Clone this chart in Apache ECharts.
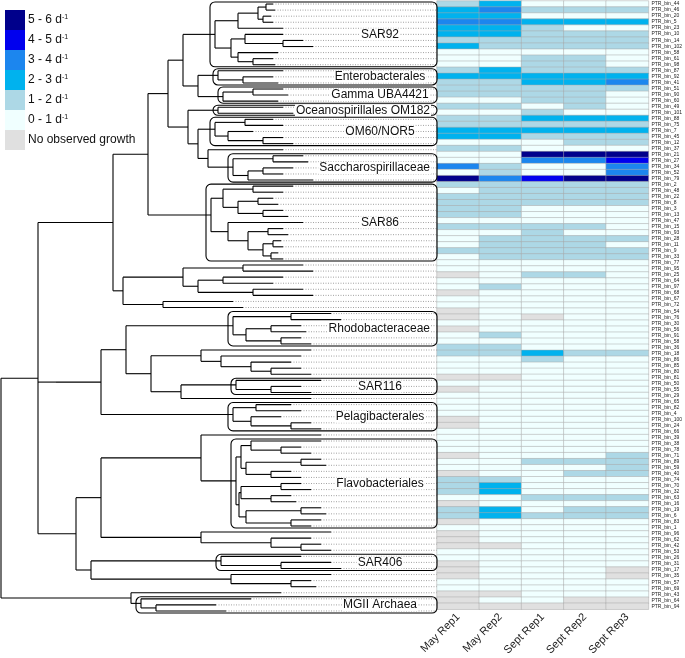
<!DOCTYPE html>
<html><head><meta charset="utf-8">
<script src="https://cdn.jsdelivr.net/npm/echarts@6/dist/echarts.min.js"></script>
<style>html,body{margin:0;padding:0;background:#fff}#c{width:685px;height:658px}</style>
</head><body><div id="c"></div>
<script>
// ---------------- DATA ----------------
const rowLabels = ['PTR_bin_44','PTR_bin_46','PTR_bin_20','PTR_bin_5','PTR_bin_23','PTR_bin_10','PTR_bin_14','PTR_bin_102','PTR_bin_58','PTR_bin_61','PTR_bin_98','PTR_bin_87','PTR_bin_92','PTR_bin_41','PTR_bin_51','PTR_bin_90','PTR_bin_60','PTR_bin_49','PTR_bin_101','PTR_bin_88','PTR_bin_75','PTR_bin_7','PTR_bin_45','PTR_bin_12','PTR_bin_37','PTR_bin_21','PTR_bin_27','PTR_bin_34','PTR_bin_52','PTR_bin_79','PTR_bin_2','PTR_bin_48','PTR_bin_22','PTR_bin_8','PTR_bin_3','PTR_bin_13','PTR_bin_47','PTR_bin_15','PTR_bin_93','PTR_bin_28','PTR_bin_11','PTR_bin_9','PTR_bin_33','PTR_bin_77','PTR_bin_95','PTR_bin_25','PTR_bin_64','PTR_bin_97','PTR_bin_68','PTR_bin_67','PTR_bin_72','PTR_bin_54','PTR_bin_76','PTR_bin_30','PTR_bin_56','PTR_bin_91','PTR_bin_58','PTR_bin_36','PTR_bin_18','PTR_bin_86','PTR_bin_85','PTR_bin_80','PTR_bin_81','PTR_bin_50','PTR_bin_55','PTR_bin_29','PTR_bin_65','PTR_bin_82','PTR_bin_4','PTR_bin_100','PTR_bin_24','PTR_bin_66','PTR_bin_39','PTR_bin_38','PTR_bin_78','PTR_bin_71','PTR_bin_89','PTR_bin_59','PTR_bin_40','PTR_bin_74','PTR_bin_70','PTR_bin_32','PTR_bin_63','PTR_bin_16','PTR_bin_19','PTR_bin_6','PTR_bin_83','PTR_bin_1','PTR_bin_96','PTR_bin_62','PTR_bin_42','PTR_bin_53','PTR_bin_26','PTR_bin_31','PTR_bin_17','PTR_bin_35','PTR_bin_57','PTR_bin_69','PTR_bin_43','PTR_bin_64','PTR_bin_94'];

const columns = ['May Rep1','May Rep2','Sept Rep1','Sept Rep2','Sept Rep3'];

// growth class per row: -1 = no observed growth, 0 = 0-1, 1 = 1-2, 2 = 2-3, 3 = 3-4, 4 = 4-5, 5 = 5-6 d^-1
const mayRep1  = [1,2,2,3,2,2,1,2,0,0,0,1,2,1,1,1,0,1,0,1,1,2,2,0,1,0,0,3,0,5,1,0,1,1,1,1,0,1,0,0,0,1,0,0,0,-1,0,0,-1,0,0,-1,-1,0,-1,0,0,1,1,0,0,0,-1,0,-1,0,0,0,0,-1,-1,0,0,0,0,-1,0,0,-1,1,1,1,0,-1,1,1,-1,0,-1,-1,-1,0,0,-1,-1,-1,0,0,-1,-1,-1];
const mayRep2  = [2,3,2,3,2,2,1,1,0,0,0,2,2,1,1,1,0,1,0,1,1,2,2,0,1,0,0,1,1,3,1,1,1,1,1,1,0,1,0,1,1,1,1,0,0,0,0,1,0,0,0,0,0,0,0,1,0,1,1,0,0,0,-1,0,0,0,0,0,0,0,0,0,0,0,0,0,0,0,0,1,2,2,0,0,2,2,0,0,0,0,-1,0,0,0,0,0,0,0,-1,0,-1];
const septRep1 = [0,1,0,2,1,1,1,1,0,1,1,1,2,2,1,1,1,0,1,2,1,2,1,0,0,5,3,0,0,4,1,1,1,1,0,0,0,1,1,1,1,1,1,0,0,1,0,0,0,0,0,0,-1,0,0,0,0,0,2,1,0,0,0,0,0,0,0,0,0,0,0,0,0,0,0,0,1,0,0,0,0,0,1,0,0,1,0,0,0,0,0,0,0,0,0,0,0,0,0,0,-1];
const septRep2 = [0,1,0,2,0,1,1,1,0,1,1,1,2,2,1,1,1,1,0,2,1,2,1,1,0,5,3,0,0,5,1,1,1,1,0,0,0,1,0,1,1,1,1,0,0,1,0,0,0,0,0,0,0,0,0,0,0,0,1,0,0,0,0,0,0,0,0,0,0,0,0,0,0,0,0,0,1,0,1,0,0,0,1,0,1,1,0,0,0,0,0,0,0,0,0,0,0,0,0,-1,-1];
const septRep3 = [0,1,0,2,0,1,1,1,0,0,0,1,2,3,1,0,0,0,0,2,1,2,1,1,0,5,4,3,3,5,1,1,1,1,0,0,0,0,0,1,0,1,1,0,0,0,0,0,0,0,0,0,0,0,0,0,0,0,1,0,0,0,0,0,0,0,0,0,0,0,0,0,0,0,0,1,1,1,1,0,0,0,1,0,1,1,0,0,0,0,0,0,0,0,-1,-1,0,0,0,-1,-1];

const growthCodes  = [-1, 0, 1, 2, 3, 4, 5];
const growthLabels = ['No observed growth','0 - 1 d{s|-1}','1 - 2 d{s|-1}','2 - 3 d{s|-1}','3 - 4 d{s|-1}','4 - 5 d{s|-1}','5 - 6 d{s|-1}'];
const growthColors = ['#E0E0E0','#F0FFFF','#ADD8E6','#00B2EE','#1C86EE','#0000EE','#00008B'];

const cladeNames    = ['SAR92','Enterobacterales','Gamma UBA4421','Oceanospirillales OM182','OM60/NOR5','Saccharospirillaceae','SAR86','Rhodobacteraceae','SAR116','Pelagibacterales','Flavobacteriales','SAR406','MGII Archaea'];
const cladeFirstRow = [1,12,15,18,20,26,31,52,63,67,73,92,99];
const cladeLastRow  = [11,14,17,19,24,30,43,57,65,71,87,94,101];

// tree (Newick fragments with branch lengths); leaves in row order
const sar92Tree  = '((((44:7,46:9):8,(20:8,5:10):5):20,23:45):23,((10:38,(14:20,102:30):38):14,(58:40,(61:20,98:22):15):7):16)';
const enteroTree = '(87:65,(92:30,41:35):25)';
const ubaTree    = '((51:30,90:35):30,60:55)';
const om182Tree  = '(49:65,101:75)';
const om60Tree   = '((88:28,75:38):30,(7:25,(45:20,12:30):35):13)';
const sacchTree  = '((21:30,27:35):40,((34:30,52:20):15,79:65):15)';
const sar86Tree  = '(((2:40,48:30):30,((22:15,8:20):20,(3:20,13:25):25):15):12,(47:75,((15:15,93:20):20,((28:8,11:10):10,(9:7,33:12):8):15):20):17)';
const gammaRest  = '(((77:60,95:70):60,((25:60,64:50):25,(97:50,68:60):55):15):60,(67:70,72:80):40)';
const rhodoTree  = '((54:40,76:50):58,((30:30,56:35):25,(91:20,58:30):35):13)';
const alphaMid   = '(36:110,(18:80,(86:40,(85:30,80:40):20):30):20)';
const sar116Tree = '(81:85,(50:30,55:40):35)';
const pelagiTree = '((65:35,82:45):23,(4:30,(100:20,24:30):40):18)';
const flavoTree  = '(((39:70,(38:20,78:30):30):10,((71:20,89:25):55,(59:20,40:30):25):5):5,(((74:20,70:30):40,(32:20,63:25):30):2,((16:20,19:25):55,(6:30,83:20):45):7):3)';
const bactRest   = '(1:130,(96:40,(62:20,42:30):30):70)';
const sar406Tree = '(53:80,(26:50,31:60):60)';
const otherRest  = '(17:100,(35:20,57:25):60)';
const mgiiTree   = '(43:110,(64:60,94:70):15)';

const gammaTree = `((((${sar92Tree}:32,(${enteroTree}:20,${ubaTree}:25):15):15,(${om182Tree}:30,(${om60Tree}:17,(37:75,${sacchTree}:25):10):10):20):20,${sar86Tree}:63):35,${gammaRest}:10)`;
const alphaTree = `(((${rhodoTree}:107,(${alphaMid}:50,(${sar116Tree}:55,29:130):30):25):25,${pelagiTree}:132)`;
const bactTree  = `(((66:120,${flavoTree}:35):100,${bactRest}:100):25,(${sar406Tree}:130,${otherRest}:140):15)`;
const fullTree  = `(((${gammaTree}:75,${alphaTree}:45):18,${bactTree}:38):37,(69:150,${mgiiTree}:10):130);`;

// ---------------- LAYOUT ----------------
function parseNewick(s) {
  s = s.replace(/\s/g, '');
  let i = 0;
  function node() {
    const n = { children: [], name: '', len: 0 };
    if (s[i] === '(') {
      i++;
      n.children.push(node());
      while (s[i] === ',') { i++; n.children.push(node()); }
      i++;
    }
    let name = '';
    while (i < s.length && !',():;'.includes(s[i])) name += s[i++];
    n.name = name;
    if (s[i] === ':') {
      i++; let num = '';
      while (i < s.length && !',();'.includes(s[i])) num += s[i++];
      n.len = parseFloat(num);
    }
    return n;
  }
  return node();
}
const root = parseNewick(fullTree);
let leafCount = 0;
function layout(n, px) {
  n.x = px + n.len;
  if (!n.children.length) { n.y = leafCount++; n.first = n.y; n.last = n.y; }
  else {
    n.children.forEach(c => layout(c, n.x));
    const k = n.children.length;
    n.y = (n.children[0].y + n.children[k - 1].y) / 2;
    n.first = n.children[0].first; n.last = n.children[k - 1].last;
  }
}
root.len = 0; layout(root, 0);

const TREE_MAX = 436;
const branchSegs = [], dotSegs = [], byRange = {};
function walk(n, parent) {
  if (!byRange[n.first + '-' + n.last]) byRange[n.first + '-' + n.last] = n;
  if (parent) branchSegs.push([parent.x, n.y, n.x, n.y]);
  if (n.children.length) {
    branchSegs.push([n.x, n.children[0].y, n.x, n.children[n.children.length - 1].y]);
    n.children.forEach(c => walk(c, n));
  } else if (n.x < TREE_MAX) {
    dotSegs.push([n.x, n.y, TREE_MAX, n.y]);
  }
}
walk(root, null);

const cladeBoxes = cladeNames.map((nm, i) => {
  const a = cladeFirstRow[i] - 1, b = cladeLastRow[i] - 1;
  const node = byRange[a + '-' + b];
  const mx = node ? node.x : 200;
  return [mx - 5, a, b, i];
});

const cells = [];
[mayRep1, mayRep2, septRep1, septRep2, septRep3].forEach((col, ci) =>
  col.forEach((v, ri) => cells.push([ci, ri, v])));

const FONT = '"Liberation Sans", Arial, sans-serif';
const mctx = document.createElement('canvas').getContext('2d');
mctx.font = '12px ' + FONT;

function segRender(stroke, width, dash) {
  return function (params, api) {
    const a = api.coord([api.value(0), api.value(1)]);
    const b = api.coord([api.value(2), api.value(3)]);
    return { type: 'line', shape: { x1: a[0], y1: a[1], x2: b[0], y2: b[1] },
      style: { stroke: stroke, lineWidth: width, lineDash: dash || null } };
  };
}

const chart = echarts.init(document.getElementById('c'));
chart.setOption({
  animation: false,
  textStyle: { fontFamily: FONT },
  grid: [
    { left: 0, top: 1, width: 437, bottom: 44 },
    { left: 437, top: 1, width: 215, bottom: 44 }
  ],
  xAxis: [
    { gridIndex: 0, type: 'value', min: -1, max: TREE_MAX, show: false },
    { gridIndex: 1, type: 'category', data: columns, axisLine: { show: false }, axisTick: { show: false },
      splitLine: { show: false },
      axisLabel: { rotate: 45, interval: 0, fontSize: 11, color: '#222', margin: 6 } }
  ],
  yAxis: [
    { gridIndex: 0, type: 'value', min: -0.5, max: 100.5, inverse: true, show: false },
    { gridIndex: 1, type: 'category', data: rowLabels, inverse: true, position: 'right',
      axisLine: { show: false }, axisTick: { show: false },
      axisLabel: { fontSize: 5, interval: 0, margin: 3, color: '#222' } }
  ],
  visualMap: {
    type: 'piecewise', seriesIndex: 3, orient: 'vertical', left: 5, top: 10, padding: 0,
    itemWidth: 20, itemHeight: 20, itemGap: 0, textGap: 3, itemSymbol: 'rect',
    selectedMode: false, hoverLink: false, z: 10,
    textStyle: { fontSize: 12, color: '#111', fontFamily: FONT, backgroundColor: '#fff',
      rich: { s: { fontSize: 7, verticalAlign: 'top', fontFamily: FONT, color: '#111' } } },
    pieces: growthCodes.map((v, i) => ({ value: v, label: growthLabels[i], color: growthColors[i] }))
  },
  series: [
    { type: 'custom', xAxisIndex: 0, yAxisIndex: 0, silent: true, data: dotSegs,
      renderItem: segRender('#8a8a8a', 0.8, [1, 1.5]) },
    { type: 'custom', xAxisIndex: 0, yAxisIndex: 0, silent: true, data: branchSegs,
      renderItem: segRender('#000', 1.1) },
    { type: 'custom', xAxisIndex: 0, yAxisIndex: 0, silent: true, data: cladeBoxes, z: 5,
      renderItem: function (params, api) {
        const tl = api.coord([api.value(0), api.value(1) - 0.5]);
        const br = api.coord([TREE_MAX, api.value(2) + 0.5]);
        const name = cladeNames[api.value(3)];
        const w = mctx.measureText(name).width;
        const tx = Math.min(br[0] - 6, 381 + w / 2);
        return { type: 'group', children: [
          { type: 'rect', shape: { x: tl[0], y: tl[1] + 1, width: br[0] - tl[0], height: br[1] - tl[1] - 2, r: 5 },
            style: { fill: 'none', stroke: '#000', lineWidth: 1.1 } },
          { type: 'text', style: { text: name, x: tx, y: (tl[1] + br[1]) / 2, align: 'right', verticalAlign: 'middle',
            fontSize: 12, fontFamily: FONT, fill: '#111', backgroundColor: '#fff', padding: [0, 1] } }
        ] };
      } },
    { type: 'heatmap', xAxisIndex: 1, yAxisIndex: 1, data: cells,
      itemStyle: { borderColor: '#a8a8a8', borderWidth: 0.5 },
      emphasis: { disabled: true } }
  ]
});
</script>
</body></html>
